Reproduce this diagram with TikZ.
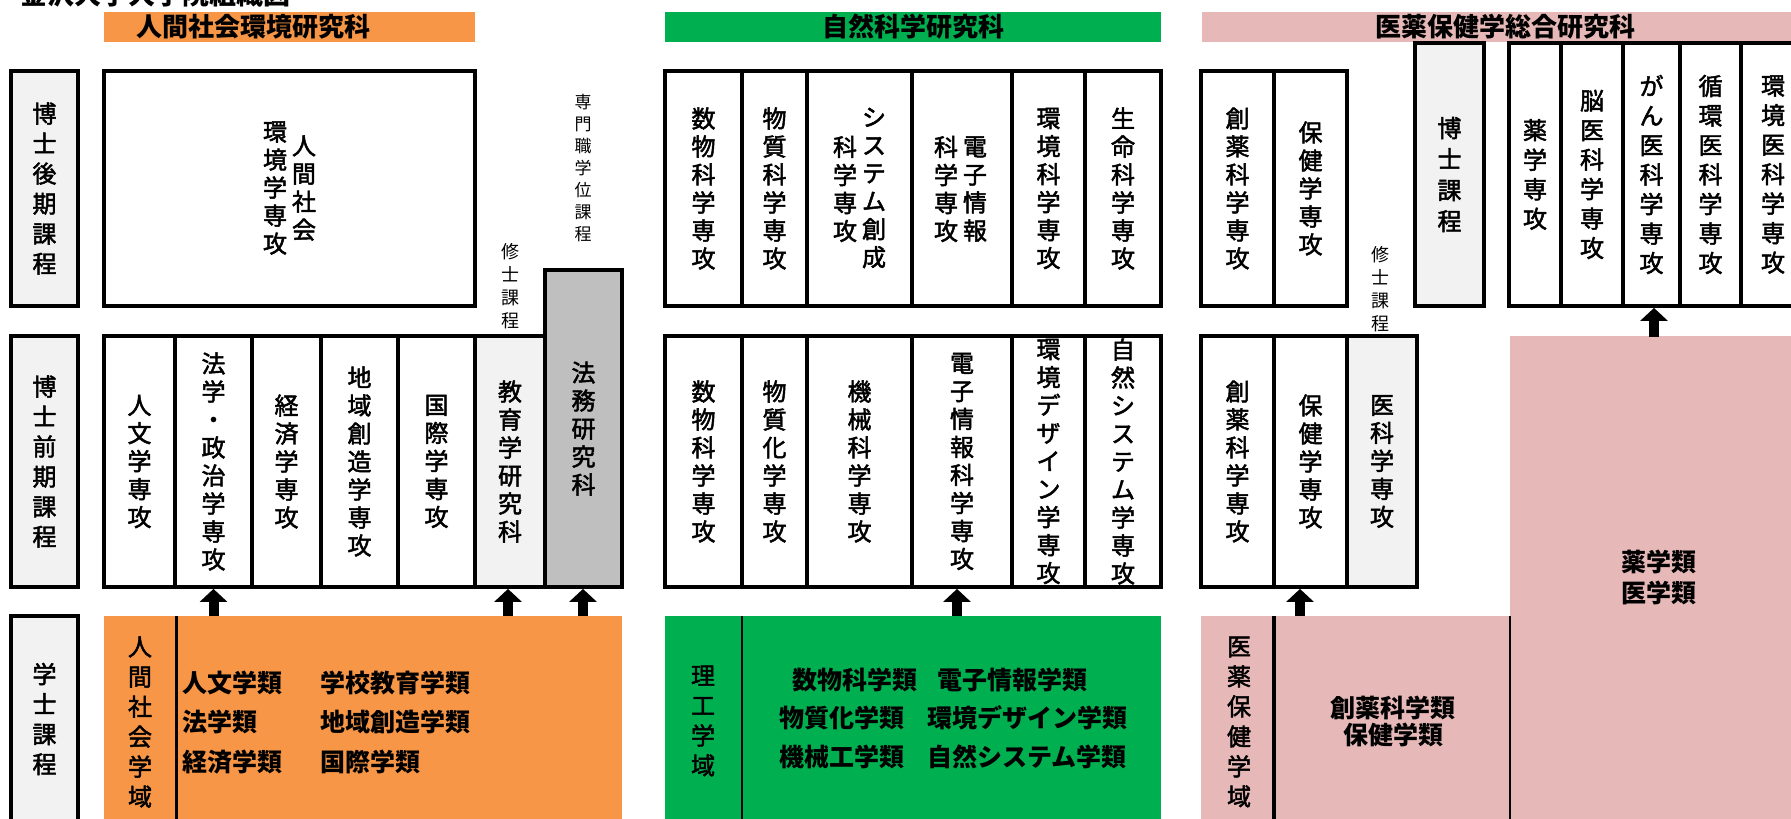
\documentclass[tikz,border=0pt]{standalone}
\usepackage{fontspec}
\setmainfont{Noto Sans CJK JP}
\newfontfamily\medjp{Noto Sans CJK JP}[FakeBold=2]
\usetikzlibrary{arrows.meta}
\definecolor{orgc}{HTML}{F79646}
\definecolor{grnc}{HTML}{00B050}
\definecolor{pnkc}{HTML}{E6B9B8}
\definecolor{lgry}{HTML}{F2F2F2}
\definecolor{dgry}{HTML}{BFBFBF}
\newcommand\vfont{\medjp\fontsize{24}{28}\selectfont}
\newcommand\lfont{\medjp\fontsize{24}{30}\selectfont}
\newcommand\sfont{\fontsize{18}{23}\selectfont}
\newcommand\hfont{\fontsize{26}{30}\selectfont\bfseries}
\newcommand\bfont{\fontsize{25}{31}\selectfont\bfseries}
\begin{document}
\begin{tikzpicture}[x=1pt,y=-1pt,
  cell/.style={draw=black, line width=3.8pt, fill=white, inner sep=0pt, align=center, font=\vfont},
  lab/.style={cell, fill=lgry, font=\lfont},
  hdr/.style={inner sep=0pt, minimum height=30pt},
  htxt/.style={inner sep=0pt, font=\hfont},
  area/.style={inner sep=0pt, draw=none},
  vtxt/.style={inner sep=0pt, align=center, font=\vfont},
  stxt/.style={inner sep=0pt, align=center, font=\sfont},
  btxt/.style={inner sep=0pt, anchor=west, font=\bfont},
  ctxt/.style={inner sep=0pt, align=center, font=\bfont},
  divline/.style={draw=black},
  bigarrow/.style={line width=10pt, -{Triangle[width=27pt,length=13pt]}}
]
\useasboundingbox (0,0) rectangle (1791,819);
\clip (0,0) rectangle (1791,819);
\fill[white] (0,0) rectangle (1791,819);

% ---------- title (cut off at the top) ----------
\node[inner sep=0pt, anchor=base west, font=\fontsize{27}{30}\selectfont\bfseries] (title) at (20,5) {金沢大学大学院組織図};

% ---------- left labels ----------
\node[lab, minimum width=67pt, minimum height=235pt] (L1) at (44.5,188.5) {博\\士\\後\\期\\課\\程};
\node[lab, minimum width=67pt, minimum height=251pt] (L2) at (44.5,461.5) {博\\士\\前\\期\\課\\程};
\node[lab, minimum width=67pt, minimum height=206pt] (L3) at (44.5,719) {学\\士\\課\\程};

% ---------- orange group ----------
\node[hdr, fill=orgc, minimum width=371pt] (hA) at (289.5,27) {};
\node[htxt] (hAt) at (253,27) {人間社会環境研究科};
\node[cell, minimum width=371pt, minimum height=235pt] (A0) at (289.5,188.5) {};
\node[vtxt] (A0r) at (304,188) {人\\間\\社\\会};
\node[vtxt] (A0l) at (275,188) {環\\境\\学\\専\\攻};
\node[cell, minimum width=71pt, minimum height=251pt] (c1) at (139.5,461.5) {人\\文\\学\\専\\攻};
\node[cell, minimum width=77pt, minimum height=251pt] (c2) at (213.5,461.5) {法\\学\\・\\政\\治\\学\\専\\攻};
\node[cell, minimum width=69pt, minimum height=251pt] (c3) at (286.5,461.5) {経\\済\\学\\専\\攻};
\node[cell, minimum width=77pt, minimum height=251pt] (c4) at (359.5,461.5) {地\\域\\創\\造\\学\\専\\攻};
\node[cell, minimum width=77pt, minimum height=251pt] (c5) at (436.5,461.5) {国\\際\\学\\専\\攻};
\node[cell, fill=lgry, minimum width=70pt, minimum height=251pt] (c6) at (510,461.5) {教\\育\\学\\研\\究\\科};
\node[cell, fill=dgry, minimum width=77pt, minimum height=317pt] (hom) at (583.5,428.5) {法\\務\\研\\究\\科};
\node[stxt] (shuA) at (510,286) {修\\士\\課\\程};
\node[stxt, font=\fontsize{17}{22}\selectfont] (senA) at (583,168) {専\\門\\職\\学\\位\\課\\程};
\node[area, fill=orgc, minimum width=518pt, minimum height=214pt] (obot) at (363,723) {};
\coordinate (od1) at (176,616);
\coordinate (od2) at (176,830);
\draw[divline, line width=3pt] (od1) -- (od2);
\node[vtxt, font=\lfont] (ogk) at (140,722) {人\\間\\社\\会\\学\\域};
\node[btxt] (o1) at (182,683) {人文学類};
\node[btxt] (o2) at (182,722) {法学類};
\node[btxt] (o3) at (182,762) {経済学類};
\node[btxt] (o4) at (320,683) {学校教育学類};
\node[btxt] (o5) at (320,722) {地域創造学類};
\node[btxt] (o6) at (320,762) {国際学類};

% ---------- green group ----------
\node[hdr, fill=grnc, minimum width=496pt] (hB) at (913,27) {};
\node[htxt] (hBt) at (913,27) {自然科学研究科};
\node[cell, minimum width=77pt, minimum height=235pt] (g1) at (703.5,188.5) {数\\物\\科\\学\\専\\攻};
\node[cell, minimum width=65pt, minimum height=235pt] (g2) at (774.5,188.5) {物\\質\\科\\学\\専\\攻};
\node[cell, minimum width=105pt, minimum height=235pt] (g3) at (859.5,188.5) {};
\node[vtxt] (g3r) at (874,188) {シ\\ス\\テ\\ム\\創\\成};
\node[vtxt] (g3l) at (845,189) {科\\学\\専\\攻};
\node[cell, minimum width=100pt, minimum height=235pt] (g4) at (962,188.5) {};
\node[vtxt] (g4r) at (975,189) {電\\子\\情\\報};
\node[vtxt] (g4l) at (946,189) {科\\学\\専\\攻};
\node[cell, minimum width=73pt, minimum height=235pt] (g5) at (1048.5,188.5) {環\\境\\科\\学\\専\\攻};
\node[cell, minimum width=76pt, minimum height=235pt] (g6) at (1123,188.5) {生\\命\\科\\学\\専\\攻};
\node[cell, minimum width=77pt, minimum height=251pt] (h1) at (703.5,461.5) {数\\物\\科\\学\\専\\攻};
\node[cell, minimum width=65pt, minimum height=251pt] (h2) at (774.5,461.5) {物\\質\\化\\学\\専\\攻};
\node[cell, minimum width=105pt, minimum height=251pt] (h3) at (859.5,461.5) {機\\械\\科\\学\\専\\攻};
\node[cell, minimum width=100pt, minimum height=251pt] (h4) at (962,461.5) {電\\子\\情\\報\\科\\学\\専\\攻};
\node[cell, minimum width=73pt, minimum height=251pt] (h5) at (1048.5,461.5) {環\\境\\デ\\ザ\\イ\\ン\\学\\専\\攻};
\node[cell, minimum width=76pt, minimum height=251pt] (h6) at (1123,461.5) {自\\然\\シ\\ス\\テ\\ム\\学\\専\\攻};
\node[area, fill=grnc, minimum width=496pt, minimum height=214pt] (gbot) at (913,723) {};
\coordinate (gd1) at (742,616);
\coordinate (gd2) at (742,830);
\draw[divline, line width=2pt] (gd1) -- (gd2);
\node[vtxt, font=\lfont] (ggk) at (703,721) {理\\工\\学\\域};
\node[btxt] (n1) at (792,680) {数物科学類};
\node[btxt] (n2) at (779,718) {物質化学類};
\node[btxt] (n3) at (779,757) {機械工学類};
\node[btxt] (n4) at (937,680) {電子情報学類};
\node[btxt] (n5) at (927,718) {環境デザイン学類};
\node[btxt] (n6) at (927,757) {自然システム学類};

% ---------- pink group ----------
\node[hdr, fill=pnkc, minimum width=598pt] (hC) at (1501,27) {};
\node[htxt] (hCt) at (1505,27) {医薬保健学総合研究科};
\node[cell, minimum width=73pt, minimum height=235pt] (p1) at (1237.5,188.5) {創\\薬\\科\\学\\専\\攻};
\node[cell, minimum width=73pt, minimum height=235pt] (p2) at (1310.5,188.5) {保\\健\\学\\専\\攻};
\node[stxt] (shuC) at (1380,289) {修\\士\\課\\程};
\node[cell, fill=lgry, font=\medjp\fontsize{24}{31}\selectfont, minimum width=69pt, minimum height=263pt] (hak) at (1449.5,174.5) {博\\士\\課\\程};
\node[cell, font=\medjp\fontsize{24}{29.5}\selectfont, minimum width=52pt, minimum height=263pt] (r1) at (1535,174.5) {薬\\学\\専\\攻};
\node[cell, font=\medjp\fontsize{24}{29.5}\selectfont, minimum width=62pt, minimum height=263pt] (r2) at (1592,174.5) {脳\\医\\科\\学\\専\\攻};
\node[cell, font=\medjp\fontsize{24}{29.5}\selectfont, minimum width=57pt, minimum height=263pt] (r3) at (1651.5,174.5) {が\\ん\\医\\科\\学\\専\\攻};
\node[cell, font=\medjp\fontsize{24}{29.5}\selectfont, minimum width=61pt, minimum height=263pt] (r4) at (1710.5,174.5) {循\\環\\医\\科\\学\\専\\攻};
\node[cell, font=\medjp\fontsize{24}{29.5}\selectfont, minimum width=64pt, minimum height=263pt] (r5) at (1773,174.5) {環\\境\\医\\科\\学\\専\\攻};
\node[cell, minimum width=73pt, minimum height=251pt] (q1) at (1237.5,461.5) {創\\薬\\科\\学\\専\\攻};
\node[cell, minimum width=73pt, minimum height=251pt] (q2) at (1310.5,461.5) {保\\健\\学\\専\\攻};
\node[cell, fill=lgry, minimum width=70pt, minimum height=251pt] (q3) at (1382,461.5) {医\\科\\学\\専\\攻};
\node[area, fill=pnkc, minimum width=290pt, minimum height=494pt] (pbig) at (1655,583) {};
\node[ctxt] (pbt) at (1659,577) {薬学類\\医学類};
\node[area, fill=pnkc, minimum width=309pt, minimum height=214pt] (pbot) at (1355.5,723) {};
\draw[divline, line width=1.5pt] (pbot.north east) -- (pbot.south east);
\coordinate (pd1) at (1274,616);
\coordinate (pd2) at (1274,830);
\draw[divline, line width=3.5pt] (pd1) -- (pd2);
\node[vtxt, font=\lfont] (pgk) at (1239,722) {医\\薬\\保\\健\\学\\域};
\node[ctxt, font=\fontsize{25}{27}\selectfont\bfseries] (pbt2) at (1393,721) {創薬科学類\\保健学類};

% ---------- arrows ----------
\coordinate (a1) at (213.5,616);
\coordinate (a2) at (508,616);
\coordinate (a3) at (583,616);
\coordinate (a4) at (957,616);
\coordinate (a5) at (1300,616);
\coordinate (a6) at (1654,337);
\draw[bigarrow] (a1) -- (a1 |- c2.south);
\draw[bigarrow] (a2) -- (a2 |- c6.south);
\draw[bigarrow] (a3) -- (a3 |- hom.south);
\draw[bigarrow] (a4) -- (a4 |- h4.south);
\draw[bigarrow] (a5) -- (a5 |- q2.south);
\draw[bigarrow] (a6) -- (a6 |- r3.south);
\end{tikzpicture}
\end{document}
